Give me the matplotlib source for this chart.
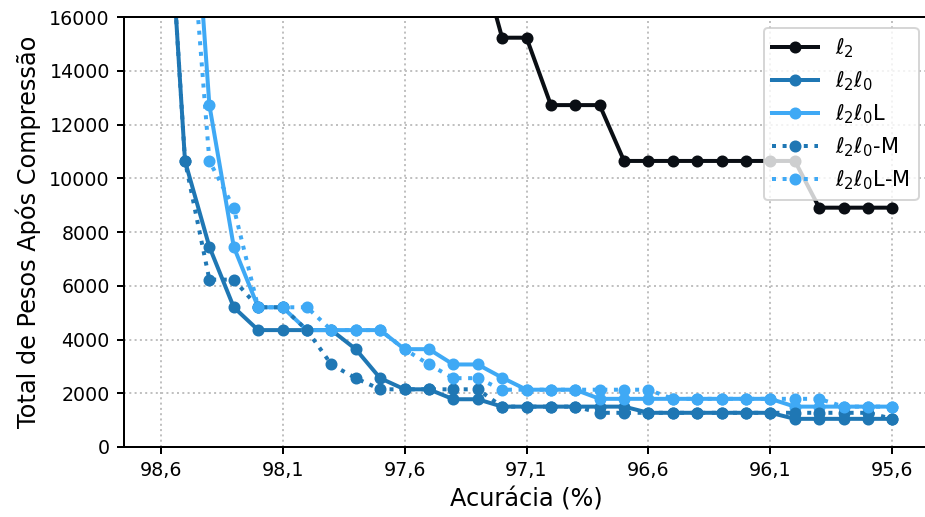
import matplotlib
matplotlib.use("Agg")
import matplotlib.pyplot as plt
import numpy as np

# Accuracy (%) values, 98.6 down to 95.6 in steps of 0.1
acc_full = [98.6, 98.5, 98.4, 98.3, 98.2, 98.1, 98.0, 97.9, 97.8, 97.7, 97.6,
            97.5, 97.4, 97.3, 97.2, 97.1, 97.0, 96.9, 96.8, 96.7, 96.6,
            96.5, 96.4, 96.3, 96.2, 96.1, 96.0, 95.9, 95.8, 95.7, 95.6]

# l2 (starts at 97.3)
acc_l2 = [97.3, 97.2, 97.1, 97.0, 96.9, 96.8, 96.7, 96.6, 96.5, 96.4, 96.3,
          96.2, 96.1, 96.0, 95.9, 95.8, 95.7, 95.6]
w_l2 = [18540, 15240, 15240, 12730, 12730, 12730, 10650, 10650, 10650, 10650,
        10650, 10650, 10650, 10650, 8910, 8910, 8910, 8910]

# l2l0
w_l2l0 = [25300, 10650, 7450, 5200, 4350, 4350, 4350, 4350, 3640, 2560, 2145,
          2145, 1775, 1775, 1500, 1500, 1500, 1500, 1500, 1500, 1270,
          1270, 1270, 1270, 1270, 1270, 1045, 1045, 1045, 1045, 1045]

# l2l0L (starts at 98.5)
acc_L = acc_full[1:]
w_l2l0L = [25600, 12730, 7450, 5200, 5200, 4350, 4350, 4350, 4350, 3640,
           3640, 3070, 3070, 2580, 2130, 2130, 2130, 1790, 1790, 1790,
           1790, 1790, 1790, 1790, 1790, 1500, 1500, 1500, 1500, 1500]

# l2l0-M
w_l2l0M = [25300, 10650, 6230, 6230, 5200, 5200, 4350, 3070, 2560, 2145, 2145,
           2145, 2145, 2145, 1500, 1500, 1500, 1500, 1270, 1270, 1270,
           1270, 1270, 1270, 1270, 1270, 1270, 1270, 1270, 1270, 1045]

# l2l0L-M (starts at 98.5)
w_l2l0LM = [22200, 10650, 8900, 5200, 5200, 5200, 4350, 4350, 4350, 3640,
            3070, 2560, 2560, 2130, 2130, 2130, 2130, 2130, 2130, 2130,
            1790, 1790, 1790, 1790, 1790, 1790, 1790, 1500, 1500, 1500]

xticks = [98.6, 98.1, 97.6, 97.1, 96.6, 96.1, 95.6]
xtick_labels = ["98,6", "98,1", "97,6", "97,1", "96,6", "96,1", "95,6"]
yticks = [0, 2000, 4000, 6000, 8000, 10000, 12000, 14000, 16000]

labels = [r"$\ell_2$", r"$\ell_2\ell_0$", r"$\ell_2\ell_0$L",
          r"$\ell_2\ell_0$-M", r"$\ell_2\ell_0$L-M"]

c_black = "#0a0e14"
c_dark = "#1f77b4"
c_light = "#3fa9f5"

fig = plt.figure(figsize=(925 / 144, 517 / 144), dpi=144)
ax = fig.add_axes([124 / 925, 70.1 / 517, 805 / 925, 429.6 / 517])

lw = 2.0
ms = 5.0
ax.plot(acc_l2, w_l2, "-o", color=c_black, lw=lw, ms=ms, label=labels[0])
ax.plot(acc_full, w_l2l0, "-o", color=c_dark, lw=lw, ms=ms, label=labels[1])
ax.plot(acc_L, w_l2l0L, "-o", color=c_light, lw=lw, ms=ms, label=labels[2])
ax.plot(acc_full, w_l2l0M, ":o", color=c_dark, lw=lw, ms=ms, label=labels[3])
ax.plot(acc_L, w_l2l0LM, ":o", color=c_light, lw=lw, ms=ms, label=labels[4])

ax.set_ylim(0, 16000)
ax.invert_xaxis()
ax.set_xticks(xticks)
ax.set_xticklabels(xtick_labels)
ax.set_yticks(yticks)
ax.tick_params(labelsize=9.5, width=1.0)
for s in ax.spines.values():
    s.set_linewidth(1.0)
ax.grid(True, linestyle=":", color="#c0c0c0", lw=1.0)
ax.set_xlabel("Acurácia (%)", fontsize=12)
ax.set_ylabel("Total de Pesos Após Compressão", fontsize=12)
ax.legend(loc="upper right", fontsize=10.5, handlelength=2.2,
          labelspacing=0.45)

fig.savefig("out.png", dpi=144)
